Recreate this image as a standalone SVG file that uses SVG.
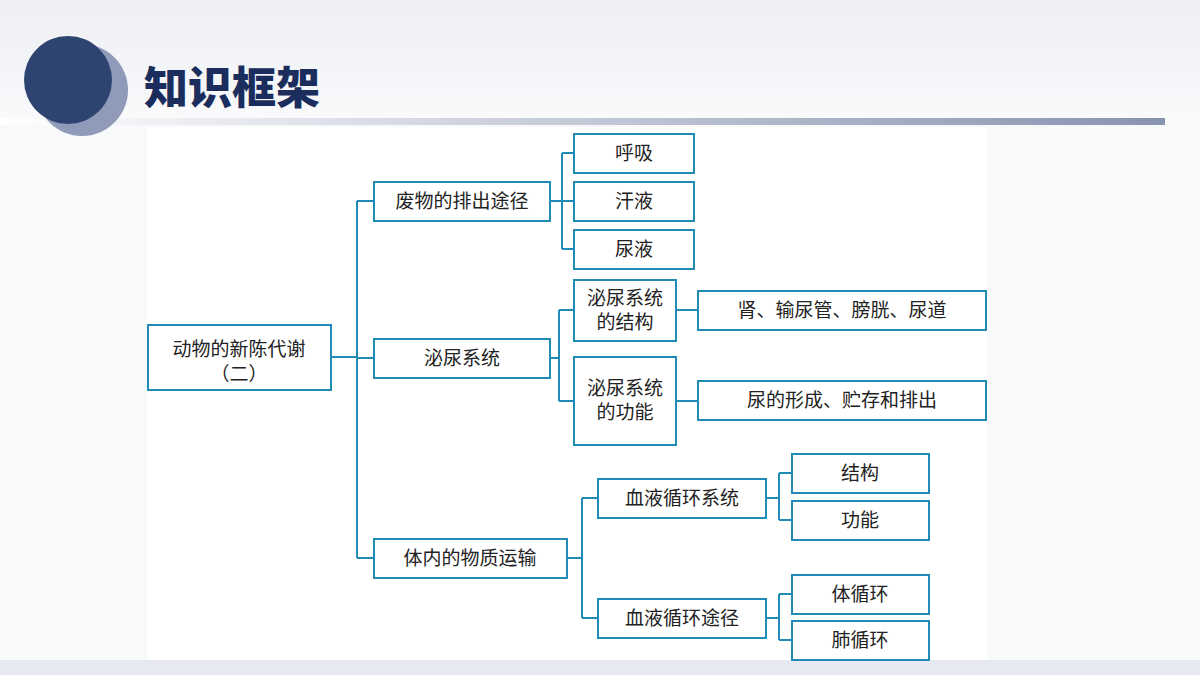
<svg xmlns="http://www.w3.org/2000/svg" width="1200" height="675" viewBox="0 0 1200 675">
<defs>
<linearGradient id="hdr" x1="0" y1="0" x2="0" y2="1"><stop offset="0" stop-color="#eef0f4"/><stop offset="0.6" stop-color="#f4f5f8"/><stop offset="1" stop-color="#fbfbfc"/></linearGradient>
<linearGradient id="bar" x1="0" y1="0" x2="1" y2="0"><stop offset="0" stop-color="#ffffff"/><stop offset="1" stop-color="#8893b0"/></linearGradient>
<style>
.b{fill:#fff;stroke:#1f8bb6;stroke-width:2}
.t{font-family:"Liberation Serif","Noto Sans CJK SC",serif;font-size:19px;fill:#222;text-anchor:middle}
.c{fill:none;stroke:#1f8bb6;stroke-width:2}
</style>
</defs>
<rect width="1200" height="675" fill="#f8f9fb"/>
<rect width="1200" height="125" fill="url(#hdr)"/>
<rect x="0" y="118" width="1165" height="7" fill="url(#bar)"/>
<rect x="0" y="660" width="1200" height="15" fill="#e6e8f2"/>
<rect x="147" y="127" width="840" height="533" fill="#fff"/>
<circle cx="82" cy="90" r="46" fill="#8f9bb9"/>
<circle cx="68" cy="80" r="44" fill="#2e4470"/>
<text x="144" y="104" font-family="'Noto Sans CJK SC',sans-serif" font-size="44" font-weight="900" fill="#1a2d5c">知识框架</text>
<g id="connectors">
<path class="c" d="M331,357H357M357,201V558M357,201H374M357,358H374M357,558H374"/>
<path class="c" d="M550,201H562M562,153V249M562,153H574M562,201H574M562,249H574"/>
<path class="c" d="M550,358H559M559,310V401M559,310H574M559,401H574M676,310H698M676,401H698"/>
<path class="c" d="M567,558H582M582,498V618M582,498H598M582,618H598"/>
<path class="c" d="M766,498H779M779,473V520M779,473H792M779,520H792"/>
<path class="c" d="M766,618H779M779,594V640M779,594H792M779,640H792"/>
</g>
<g id="root"><rect class="b" x="148" y="325" width="183" height="65"/><text class="t" x="239" y="356">动物的新陈代谢</text><text class="t" x="239" y="381">（二）</text></g>
<g id="n1"><rect class="b" x="374" y="182" width="176" height="39"/><text class="t" x="462" y="208">废物的排出途径</text></g>
<g id="n2"><rect class="b" x="374" y="339" width="176" height="39"/><text class="t" x="462" y="365">泌尿系统</text></g>
<g id="n3"><rect class="b" x="374" y="539" width="193" height="39"/><text class="t" x="470" y="565">体内的物质运输</text></g>
<g id="n11"><rect class="b" x="574" y="134" width="120" height="39"/><text class="t" x="634" y="160">呼吸</text></g>
<g id="n12"><rect class="b" x="574" y="182" width="120" height="39"/><text class="t" x="634" y="208">汗液</text></g>
<g id="n13"><rect class="b" x="574" y="230" width="120" height="39"/><text class="t" x="634" y="256">尿液</text></g>
<g id="n21"><rect class="b" x="574" y="280" width="102" height="61"/><text class="t" x="625" y="305">泌尿系统</text><text class="t" x="625" y="329">的结构</text></g>
<g id="n22"><rect class="b" x="574" y="357" width="102" height="88"/><text class="t" x="625" y="395">泌尿系统</text><text class="t" x="625" y="419">的功能</text></g>
<g id="n211"><rect class="b" x="698" y="291" width="288" height="39"/><text class="t" x="842" y="317">肾、输尿管、膀胱、尿道</text></g>
<g id="n221"><rect class="b" x="698" y="381" width="288" height="39"/><text class="t" x="842" y="407">尿的形成、贮存和排出</text></g>
<g id="n31"><rect class="b" x="598" y="479" width="168" height="39"/><text class="t" x="682" y="505">血液循环系统</text></g>
<g id="n32"><rect class="b" x="598" y="599" width="168" height="39"/><text class="t" x="682" y="625">血液循环途径</text></g>
<g id="n311"><rect class="b" x="792" y="454" width="137" height="39"/><text class="t" x="860" y="480">结构</text></g>
<g id="n312"><rect class="b" x="792" y="501" width="137" height="39"/><text class="t" x="860" y="527">功能</text></g>
<g id="n321"><rect class="b" x="792" y="575" width="137" height="39"/><text class="t" x="860" y="601">体循环</text></g>
<g id="n322"><rect class="b" x="792" y="621" width="137" height="39"/><text class="t" x="860" y="647">肺循环</text></g>
</svg>
